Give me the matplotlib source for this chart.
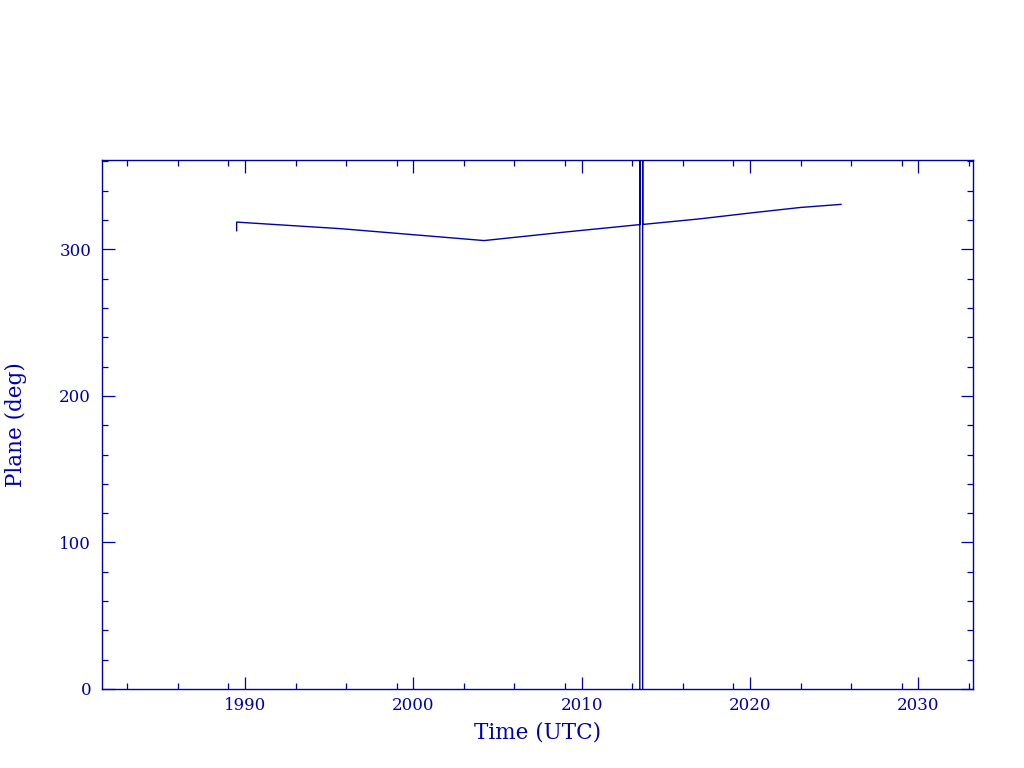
import matplotlib
matplotlib.use("Agg")
import matplotlib.pyplot as plt
from matplotlib.ticker import FixedLocator, MultipleLocator

# orbit plane vs time (years, deg)
years = [1989.5, 1989.5, 1995.7, 2000.0, 2004.2, 2009.0, 2013.45, 2013.45, 2013.45,
         2013.62, 2013.62, 2013.62, 2017.0, 2020.0, 2023.0, 2025.4]
plane = [312.7, 318.6, 314.1, 310.0, 306.0, 311.8, 316.9, 400.0, -40.0,
         -40.0, 400.0, 317.0, 320.8, 324.8, 328.6, 330.7]

major_years = [1990, 2000, 2010, 2020, 2030]
minor_years = [1983, 1986, 1989, 1993, 1996, 1999, 2003, 2006, 2009,
               2013, 2016, 2019, 2023, 2026, 2029, 2033]

col = '#0000a8'
plt.rcParams['font.family'] = ['DejaVu Serif']

fig = plt.figure(figsize=(10.24, 7.68), dpi=100)
ax = fig.add_axes([0.0999, 0.1029, 0.8501, 0.6888])

ax.plot(years, plane, color=col, lw=1.0)

ax.set_xlim(1981.52, 2033.23)
ax.set_ylim(0, 361)

ax.xaxis.set_major_locator(FixedLocator(major_years))
ax.xaxis.set_minor_locator(FixedLocator(minor_years))
ax.yaxis.set_major_locator(MultipleLocator(100))
ax.yaxis.set_minor_locator(MultipleLocator(20))

ax.tick_params(which='both', direction='in', top=True, right=True, colors=col,
               labelsize=12, width=0.9)
ax.tick_params(which='major', length=9)
ax.tick_params(which='minor', length=4.5)
ax.tick_params(axis='x', pad=6)
ax.tick_params(axis='y', pad=8)
for s in ax.spines.values():
    s.set_color(col)
    s.set_linewidth(1.0)

ax.set_xlabel("Time (UTC)", color=col, fontsize=15.5, labelpad=5)
ax.set_ylabel("Plane (deg)", color=col, fontsize=15.5, labelpad=23)

fig.savefig("out.png", dpi=100)
